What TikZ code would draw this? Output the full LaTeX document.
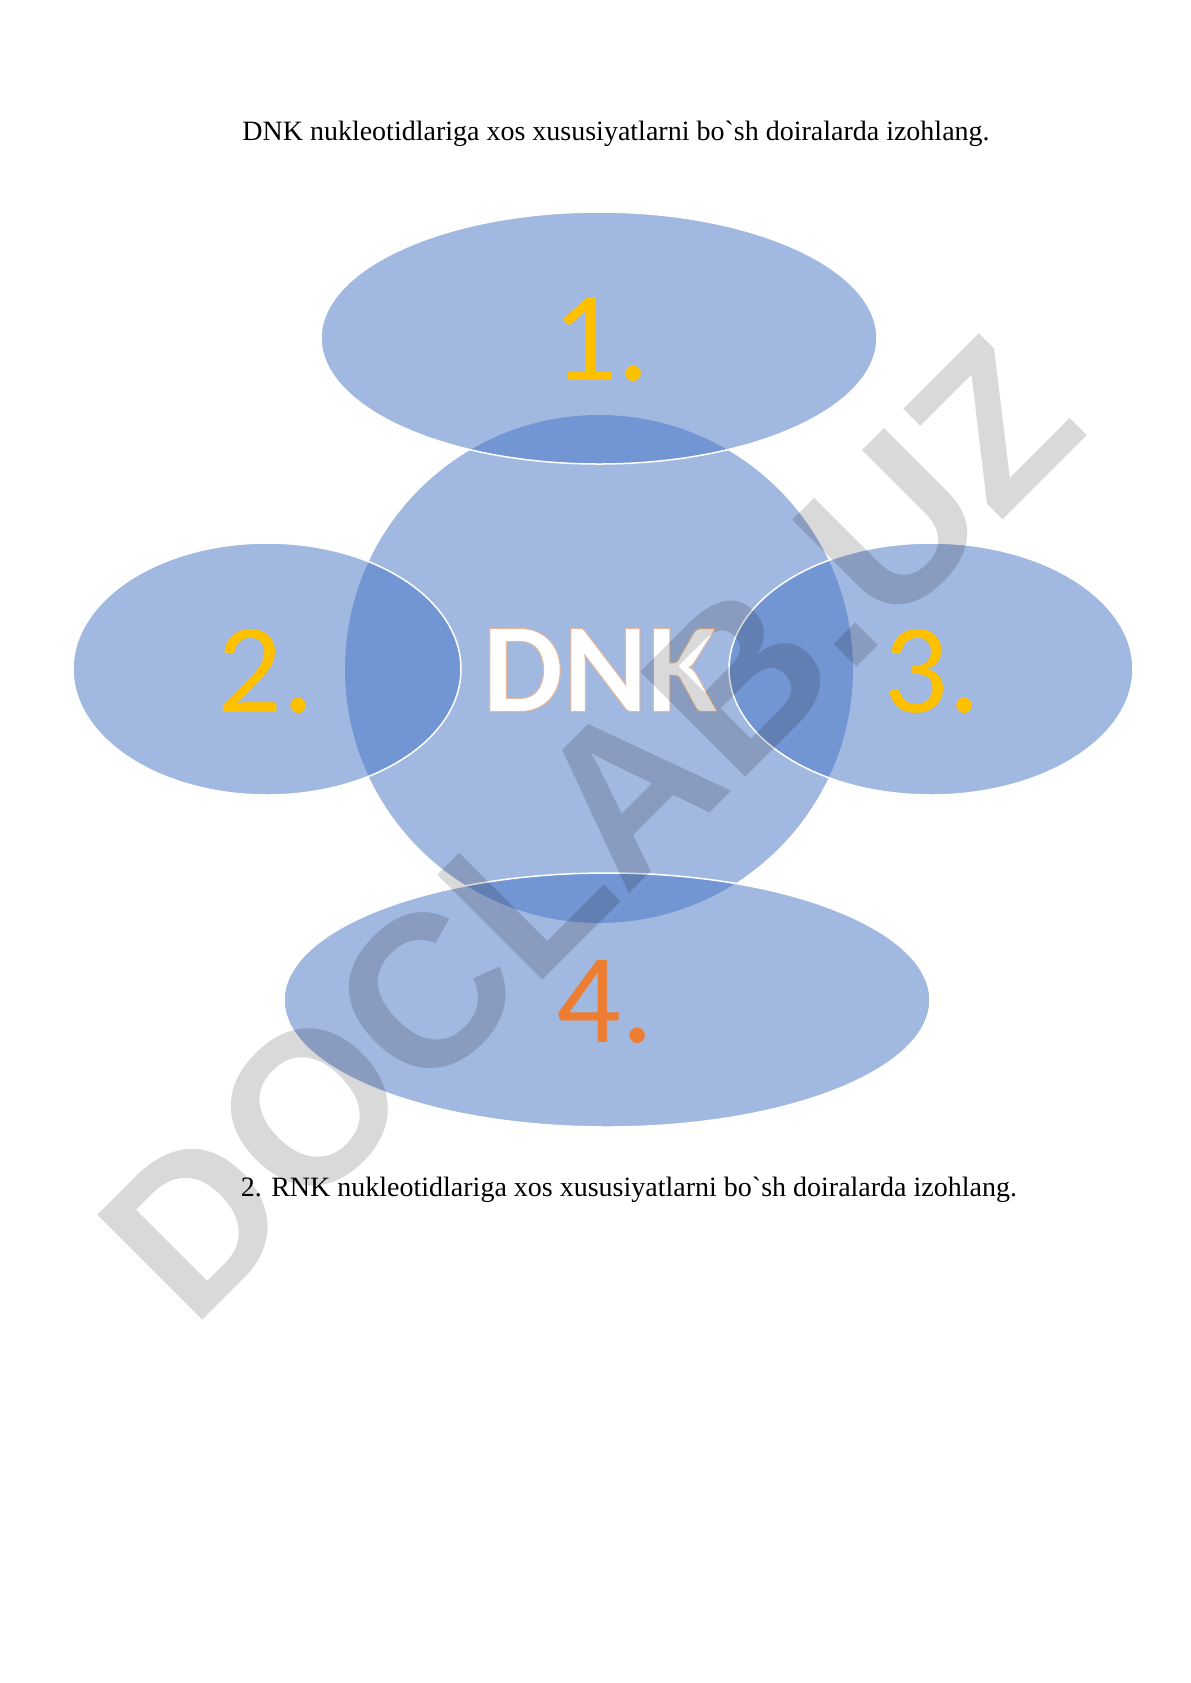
\documentclass[tikz,border=0pt]{standalone}
\usepackage{fontspec}
\setmainfont{Liberation Serif}[Ligatures=TeXOff]
\newfontfamily\calibri{Carlito}
\newfontfamily\markfont{Liberation Sans}
\usetikzlibrary{shapes.geometric}
\definecolor{accentblue}{HTML}{4472C4}
\definecolor{accentgold}{HTML}{FFC000}
\definecolor{accentorange}{HTML}{ED7D31}

\begin{document}
\begin{tikzpicture}[x=0.5pt, y=-0.5pt]
            \tikzset{bubble/.style = {shape=ellipse, fill=accentblue, fill opacity=0.5, inner sep=0pt}}
            \tikzset{rim/.style = {draw=white, line width=0.75pt}}
            \tikzset{numlabel/.style = {font=\calibri\fontsize{64}{64}\selectfont, inner sep=0pt}}
            \tikzset{task/.style = {font=\fontsize{14}{16}\selectfont, inner sep=0pt, anchor=base}}

            \useasboundingbox (0, 0) rectangle (1190, 1683);

            \node[task] (title) at (616, 140) {DNK nukleotidlariga xos xususiyatlarni bo`sh doiralarda izohlang.};

            \node[bubble, minimum size=254pt] (core) at (599, 669) {};

            \node[bubble, rim, minimum width=278pt, minimum height=126pt] (top) at (599, 338) {};
            \node[bubble, rim, minimum width=194pt, minimum height=126pt] (left) at (267, 669) {};
            \node[bubble, rim, minimum width=202pt, minimum height=126pt] (right) at (931, 669) {};
            \node[bubble, rim, minimum width=323pt, minimum height=127pt] (bottom) at (607, 1000) {};

            \node[numlabel, text=accentgold] (one) at (601, 340) {1.};
            \node[numlabel, text=accentgold] (two) at (266, 671) {2.};
            \node[numlabel, text=accentgold] (three) at (932, 671) {3.};
            \node[numlabel, text=accentorange] (four) at (605, 1002) {4.};
            \node[numlabel, text=white] (dnk) at (600, 670)
                {\bfseries\special{pdf:literal direct 2 Tr 0.5 w 0.91 0.72 0.6 RG}DNK\special{pdf:literal direct 0 Tr}};

            \node[task] (next) at (629, 1196) {2. RNK nukleotidlariga xos xususiyatlarni bo`sh doiralarda izohlang.};

            \node[rotate=45, inner sep=0pt, text=black, text opacity=0.15,
                  font=\markfont\bfseries\fontsize{108}{108}\selectfont] (mark) at (590, 828) {DOCLAB.UZ};
        \end{tikzpicture}
\end{document}
